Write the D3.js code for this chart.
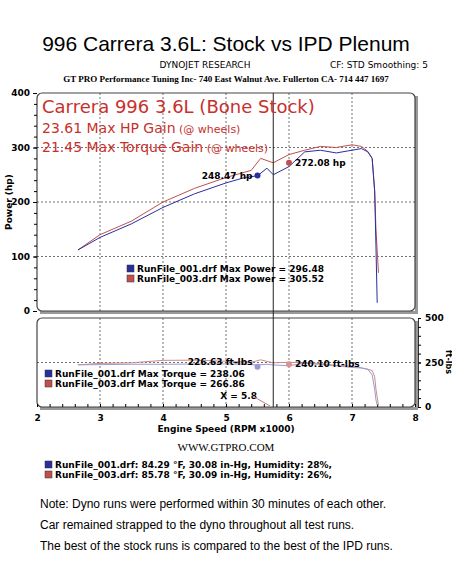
<!DOCTYPE html>
<html><head><meta charset="utf-8">
<script src="https://cdn.jsdelivr.net/npm/d3@7"></script>
<style>body{margin:0;background:#fff}svg{display:block}</style>
</head><body><svg id="c" width="452" height="584"></svg>
<script>
// data
const rpmStock  = [2.65,3.0,3.5,4.0,4.5,5.0,5.3,5.5,5.65,5.75,6.0,6.25,6.5,6.75,7.0,7.15,7.25,7.32,7.36,7.38,7.4];
const hpStock   = [112,135,160,190,215,235,245,248,262,250,265,292,295,290,295,298,292,280,220,120,15];
const rpmIPD    = [2.65,3.0,3.5,4.0,4.5,5.0,5.4,5.55,5.75,6.0,6.25,6.5,6.75,7.0,7.15,7.25,7.32,7.36,7.38,7.42];
const hpIPD     = [112,140,165,200,225,245,258,280,272,287,295,302,300,305,302,293,280,220,150,70];
const tqStock   = [237,238,240,240,241,242,240,236,240,236,232,246,239,231,222,219,212,180,100,40,10];
const tqIPD     = [237,245,248,262,263,257,251,265,248,251,248,244,233,229,220,212,205,170,100,10];
const xTicks    = [2,3,4,5,6,7,8];
const hpTicks   = [0,100,200,300,400];
const tqTicks   = [0,250,500];
const notes = ["Note: Dyno runs were performed within 30 minutes of each other.",
  "Car remained strapped to the dyno throughout all test runs.",
  "The best of the stock runs is compared to the best of the IPD runs."];

const svg = d3.select("#c");
const L = 37, R = 415, blue = "#2a2f9e", red = "#c0504d";
const x = d3.scaleLinear().domain([2,8]).range([L,R]);
const yHp = d3.scaleLinear().domain([0,400]).range([311,93]);
const yTq = d3.scaleLinear().domain([0,500]).range([407,318]);

svg.append("text").attr("x",226).attr("y",51).attr("text-anchor","middle")
  .style("font","21px 'Liberation Sans',Arial").text("996 Carrera 3.6L: Stock vs IPD Plenum");
svg.append("text").attr("x",205).attr("y",68).attr("text-anchor","middle")
  .style("font","9px 'DejaVu Sans'").text("DYNOJET RESEARCH");
svg.append("text").attr("x",330).attr("y",68)
  .style("font","9px 'DejaVu Sans'").text("CF: STD  Smoothing: 5");
svg.append("text").attr("x",226).attr("y",82).attr("text-anchor","middle")
  .style("font","bold 9px 'Liberation Serif'").text("GT PRO Performance Tuning Inc- 740 East Walnut Ave. Fullerton CA- 714 447 1697");

function panel(yTop, yBot){
  const g = svg.append("g");
  g.append("rect").attr("x",R).attr("y",yTop+3).attr("width",3).attr("height",yBot-yTop).attr("fill","#999");
  g.append("rect").attr("x",L+3).attr("y",yBot).attr("width",R-L).attr("height",3).attr("fill","#999");
  g.append("rect").attr("x",L).attr("y",yTop).attr("width",R-L).attr("height",yBot-yTop)
    .attr("rx",5).attr("fill","#fff").attr("stroke","#444").attr("stroke-width",1.2);
  xTicks.slice(1,-1).forEach(t=>g.append("line").attr("x1",x(t)).attr("x2",x(t)).attr("y1",yTop).attr("y2",yBot)
    .attr("stroke","#333").attr("stroke-dasharray","2,2").attr("stroke-width",0.7));
  return g;
}

// top panel
const gT = panel(93, 311);
hpTicks.slice(1,-1).forEach(t=>gT.append("line").attr("x1",L).attr("x2",R).attr("y1",yHp(t)).attr("y2",yHp(t))
  .attr("stroke","#333").attr("stroke-dasharray","2,2").attr("stroke-width",0.7));
gT.append("g").attr("transform",`translate(${L},0)`).call(d3.axisLeft(yHp).tickValues(hpTicks).tickSize(4).tickFormat(d3.format("d")))
  .call(a=>{a.select(".domain").remove();a.selectAll("text").style("font","bold 9px 'DejaVu Sans'");});
gT.append("g").attr("transform",`translate(${L},0)`).call(d3.axisLeft(yHp).ticks(20).tickSize(3).tickFormat(""))
  .call(a=>a.select(".domain").remove());
svg.append("text").attr("transform","translate(12,202) rotate(-90)").attr("text-anchor","middle")
  .style("font","bold 9px 'DejaVu Sans'").text("Power (hp)");
const lineHp = (rs,vs)=>d3.line().x((d,i)=>x(rs[i])).y(d=>yHp(d))(vs);
gT.append("path").attr("d",lineHp(rpmIPD,hpIPD)).attr("fill","none").attr("stroke",red).attr("stroke-width",1);
gT.append("path").attr("d",lineHp(rpmStock,hpStock)).attr("fill","none").attr("stroke",blue).attr("stroke-width",1);

// bottom panel
const gB = panel(318, 407);
gB.append("line").attr("x1",L).attr("x2",R).attr("y1",yTq(250)).attr("y2",yTq(250))
  .attr("stroke","#333").attr("stroke-dasharray","2,2").attr("stroke-width",0.7);
gB.append("g").attr("transform",`translate(${R+3},0)`).call(d3.axisRight(yTq).tickValues(tqTicks).tickSize(3).tickFormat(d3.format("d")))
  .call(a=>{a.select(".domain").remove();a.selectAll("text").attr("x",7).style("font","bold 9px 'DejaVu Sans'");});
gB.append("g").attr("transform",`translate(${R+3},0)`).call(d3.axisRight(yTq).ticks(10).tickSize(3).tickFormat(""))
  .call(a=>a.select(".domain").attr("stroke","#333"));
svg.append("text").attr("transform","translate(446,362) rotate(90)").attr("text-anchor","middle")
  .style("font","bold 8px 'DejaVu Sans'").text("ft-lbs");
gB.append("g").attr("transform",`translate(0,407)`).call(d3.axisBottom(x).tickValues(xTicks).tickSize(0).tickPadding(8).tickFormat(d3.format("d")))
  .call(a=>{a.select(".domain").remove();a.selectAll("text").style("font","bold 9px 'DejaVu Sans'");});
gB.append("g").attr("transform",`translate(0,407)`).call(d3.axisTop(x).ticks(24).tickSize(3).tickFormat(""))
  .call(a=>a.select(".domain").remove());
svg.append("text").attr("x",226).attr("y",432).attr("text-anchor","middle")
  .style("font","bold 9px 'DejaVu Sans'").text("Engine Speed (RPM x1000)");
const lineTq = (rs,vs)=>d3.line().x((d,i)=>x(rs[i])).y(d=>yTq(d))(vs);
gB.append("path").attr("d",lineTq(rpmIPD,tqIPD)).attr("fill","none").attr("stroke","#d08a8a").attr("stroke-width",1);
gB.append("path").attr("d",lineTq(rpmStock,tqStock)).attr("fill","none").attr("stroke","#9a9ad0").attr("stroke-width",1);

// cursor
svg.append("line").attr("x1",x(5.75)).attr("x2",x(5.75)).attr("y1",93).attr("y2",407).attr("stroke","#222");

// annotations
svg.append("circle").attr("cx",x(5.5)).attr("cy",yHp(248.47)).attr("r",3).attr("fill",blue);
svg.append("text").attr("x",x(5.5)-5).attr("y",yHp(248.47)+3).attr("text-anchor","end").style("font","bold 9px 'DejaVu Sans'").text("248.47 hp");
svg.append("circle").attr("cx",x(6)).attr("cy",yHp(272.08)).attr("r",3).attr("fill",red);
svg.append("text").attr("x",x(6)+6).attr("y",yHp(272.08)+3).style("font","bold 9px 'DejaVu Sans'").text("272.08 hp");
svg.append("circle").attr("cx",x(5.5)).attr("cy",yTq(226.63)).attr("r",3).attr("fill","#9a9ad0");
svg.append("text").attr("x",x(5.5)-5).attr("y",yTq(226.63)-2).attr("text-anchor","end").style("font","bold 9px 'DejaVu Sans'").text("226.63 ft-lbs");
svg.append("circle").attr("cx",x(6)).attr("cy",yTq(240.10)).attr("r",3).attr("fill","#e09090");
svg.append("text").attr("x",x(6)+6).attr("y",yTq(240.10)+3).style("font","bold 9px 'DejaVu Sans'").text("240.10 ft-lbs");
svg.append("text").attr("x",x(5.2)).attr("y",399).attr("text-anchor","middle").style("font","bold 9px 'DejaVu Sans'").text("X = 5.8");
svg.append("line").attr("x1",x(5.42)).attr("x2",x(5.7)).attr("y1",396).attr("y2",406).attr("stroke","#c08080");

// big red titles
[["Carrera 996 3.6L (Bone Stock)",42,113,18],["23.61 Max HP Gain",42,133,14],["21.45 Max Torque Gain",42,152,14]]
 .forEach(([t,xx,yy,s],i)=>{
   const tx = svg.append("text").attr("x",xx).attr("y",yy).attr("fill","#c8302c").style("font",`${s}px 'DejaVu Sans'`).text(t);
   if(i>0) tx.append("tspan").style("font-size","11px").text(" (@ wheels)");
 });

// legends
function legend(xx,yy,col,t){
  svg.append("rect").attr("x",xx).attr("y",yy-8).attr("width",7).attr("height",7).attr("fill",col).attr("stroke","#333").attr("stroke-width",0.5);
  svg.append("text").attr("x",xx+10).attr("y",yy-1).style("font","bold 9px 'DejaVu Sans'").text(t);
}
legend(127,273,blue,"RunFile_001.drf Max Power = 296.48");
legend(127,283,red,"RunFile_003.drf Max Power = 305.52");
legend(45,378,blue,"RunFile_001.drf Max Torque = 238.06");
legend(45,388,red,"RunFile_003.drf Max Torque = 266.86");

svg.append("text").attr("x",226).attr("y",451).attr("text-anchor","middle")
  .style("font","11px 'Liberation Serif'").text("WWW.GTPRO.COM");
legend(45,469,blue,"RunFile_001.drf: 84.29 °F, 30.08 in-Hg, Humidity: 28%,");
legend(45,479,red,"RunFile_003.drf: 85.78 °F, 30.09 in-Hg, Humidity: 26%,");

notes.forEach((n,i)=>svg.append("text").attr("x",40).attr("y",508+i*21)
  .style("font","12px 'Liberation Sans',Arial").text(n));
</script></body></html>
